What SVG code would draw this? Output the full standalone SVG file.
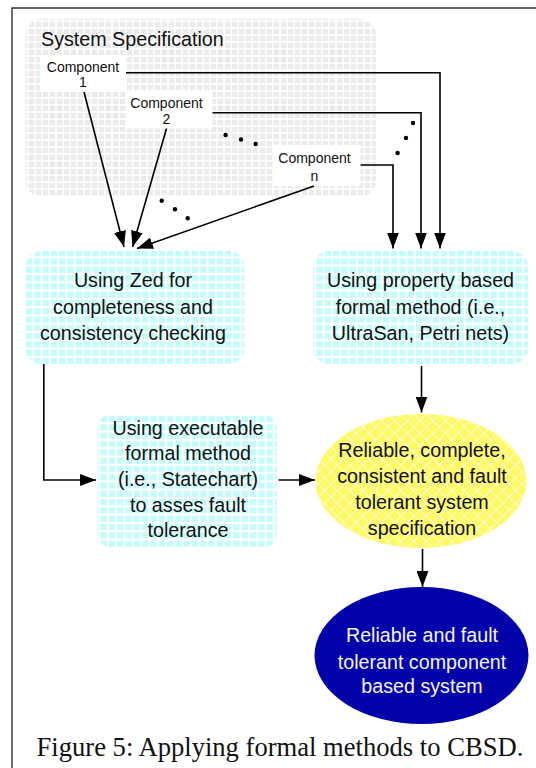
<svg xmlns="http://www.w3.org/2000/svg" width="536" height="768" viewBox="0 0 536 768">
  <style>
    .lbl { font-family: "Liberation Sans", Arial, sans-serif; fill: #111; text-anchor: middle; }
    .big { font-size: 19.7px; }
    .small { font-size: 14px; }
    .wire { fill: none; stroke: #000; stroke-width: 1.6; }
    .dot { fill: #000; }
  </style>
  <defs>
    <pattern id="gridGrey" width="7" height="7" patternUnits="userSpaceOnUse">
      <rect width="7" height="7" fill="#ffffff"/>
      <rect x="0.8" y="0.8" width="5.4" height="5.4" fill="#ebebeb"/>
    </pattern>
    <pattern id="gridCyan" width="8.3" height="8.3" patternUnits="userSpaceOnUse">
      <rect width="8.3" height="8.3" fill="#ffffff"/>
      <rect x="1" y="1" width="6.3" height="6.3" fill="#c4fcfc"/>
    </pattern>
    <pattern id="diamondYellow" width="9" height="9" patternUnits="userSpaceOnUse" patternTransform="rotate(45)">
      <rect width="9" height="9" fill="#fff966"/>
      <path d="M0 0.5H9M0.5 0V9" stroke="#ffffff" stroke-width="1.1" stroke-dasharray="2 1.2"/>
    </pattern>
    <marker id="arrow" markerWidth="16" markerHeight="12" refX="16" refY="6" orient="auto" markerUnits="userSpaceOnUse">
      <path d="M0 0L16 6L0 12Z" fill="#000"/>
    </marker>
  </defs>

  <!-- page frame -->
  <path d="M12 768V8H536" fill="none" stroke="#333" stroke-width="1.4"/>

  <!-- system specification container -->
  <g id="system-spec">
    <rect x="25.5" y="19" width="350.5" height="177.5" rx="16" fill="url(#gridGrey)"/>
    <text x="41" y="46" font-family="'Liberation Sans', Arial, sans-serif" font-size="19.7" fill="#111">System Specification</text>
  </g>

  <g id="component-1">
    <rect x="40" y="55" width="86" height="37" fill="#fff"/>
    <text class="lbl small" x="83" y="71.7">Component</text>
    <text class="lbl small" x="83" y="86.5">1</text>
  </g>
  <g id="component-2">
    <rect x="126" y="90" width="86.5" height="38.5" fill="#fff"/>
    <text class="lbl small" x="166.5" y="107.5">Component</text>
    <text class="lbl small" x="166.5" y="123.5">2</text>
  </g>
  <g id="component-n">
    <rect x="273.5" y="145" width="87" height="41" fill="#fff"/>
    <text class="lbl small" x="314.5" y="163">Component</text>
    <text class="lbl small" x="314.5" y="180.5">n</text>
  </g>

  <g id="zed-check">
    <rect x="25.5" y="251" width="219" height="113" rx="16" fill="url(#gridCyan)"/>
    <text class="lbl big" x="133" y="287">Using Zed for</text>
    <text class="lbl big" x="133" y="313.5">completeness and</text>
    <text class="lbl big" x="133" y="340">consistency checking</text>
  </g>

  <g id="property-method">
    <rect x="313" y="251" width="215" height="113" rx="16" fill="url(#gridCyan)"/>
    <text class="lbl big" x="420.5" y="287">Using property based</text>
    <text class="lbl big" x="420.5" y="313.5">formal method (i.e.,</text>
    <text class="lbl big" x="420.5" y="340">UltraSan, Petri nets)</text>
  </g>

  <g id="executable-method">
    <rect x="97.5" y="414" width="179.5" height="133.5" rx="14" fill="url(#gridCyan)"/>
    <text class="lbl big" x="188" y="434.7">Using executable</text>
    <text class="lbl big" x="188" y="459.5">formal method</text>
    <text class="lbl big" x="188" y="486">(i.e., Statechart)</text>
    <text class="lbl big" x="188" y="511.6">to asses fault</text>
    <text class="lbl big" x="188" y="537">tolerance</text>
  </g>

  <g id="reliable-spec">
    <ellipse cx="421" cy="481" rx="105.5" ry="67" fill="url(#diamondYellow)"/>
    <text class="lbl big" x="422" y="457">Reliable, complete,</text>
    <text class="lbl big" x="422" y="482.6">consistent and fault</text>
    <text class="lbl big" x="422" y="508.5">tolerant system</text>
    <text class="lbl big" x="422" y="535">specification</text>
  </g>

  <g id="reliable-system">
    <ellipse cx="421.5" cy="655.5" rx="107" ry="68.5" fill="#0202aa"/>
    <text class="lbl big" x="422" y="642" style="fill:#f4f4ff">Reliable and fault</text>
    <text class="lbl big" x="422" y="668.5" style="fill:#f4f4ff">tolerant component</text>
    <text class="lbl big" x="422" y="693" style="fill:#f4f4ff">based system</text>
  </g>

  <!-- connectors -->
  <g id="connectors">
    <path class="wire" d="M126 72.8H440V248.5" marker-end="url(#arrow)"/>
    <path class="wire" d="M212.5 112.8H421V248.5" marker-end="url(#arrow)"/>
    <path class="wire" d="M360.5 165H393V248.5" marker-end="url(#arrow)"/>
    <path class="wire" d="M84 92L124 247" marker-end="url(#arrow)"/>
    <path class="wire" d="M166.5 128.5L132.5 247" marker-end="url(#arrow)"/>
    <path class="wire" d="M314 186L137 248.5" marker-end="url(#arrow)"/>
    <path class="wire" d="M421.5 366V412.5" marker-end="url(#arrow)"/>
    <path class="wire" d="M43.8 364V480H96" marker-end="url(#arrow)"/>
    <path class="wire" d="M278.5 480H315" marker-end="url(#arrow)"/>
    <path class="wire" d="M422.5 549V587" marker-end="url(#arrow)"/>
    <!-- ellipsis dots between the components -->
    <circle class="dot" cx="225.6" cy="135" r="2.2"/>
    <circle class="dot" cx="241" cy="139.5" r="2.2"/>
    <circle class="dot" cx="255.7" cy="144" r="2.2"/>
    <circle class="dot" cx="413" cy="123" r="2.2"/>
    <circle class="dot" cx="406" cy="138" r="2.2"/>
    <circle class="dot" cx="397.6" cy="153" r="2.2"/>
    <circle class="dot" cx="161.7" cy="200.7" r="2.2"/>
    <circle class="dot" cx="175" cy="209.3" r="2.2"/>
    <circle class="dot" cx="187.7" cy="218.3" r="2.2"/>
  </g>

  <text x="36.5" y="756" font-family="'Liberation Serif', 'Times New Roman', serif" font-size="26.6" fill="#111">Figure 5: Applying formal methods to CBSD.</text>
</svg>
